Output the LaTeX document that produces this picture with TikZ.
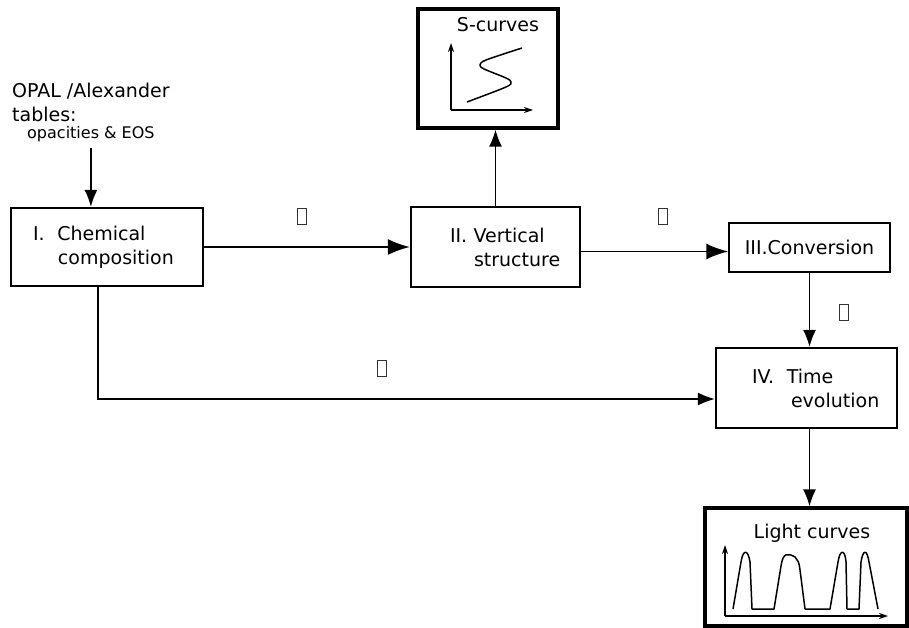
\documentclass[tikz,border=0pt]{standalone}
\usepackage{fontspec}
\setmainfont{DejaVu Sans}
\usetikzlibrary{arrows.meta,positioning}

\newcommand{\bigtext}{\fontsize{19}{24}\selectfont}
\newcommand{\smalltext}{\fontsize{16}{19}\selectfont}
\tikzset{
  stage/.style={draw, line width=2.2pt, inner xsep=0pt, inner ysep=0pt, align=left, font=\bigtext},
  panel/.style={draw, line width=3.2pt, inner sep=0pt},
  flow/.style={line width=1.6pt, -{Latex[length=17pt,width=13pt]}},
  bigflow/.style={line width=1.8pt, -{Latex[length=22pt,width=16pt]}},
  glyph/.style={draw=black!80, line width=1.1pt, minimum width=9pt, minimum height=16pt, inner sep=0pt},
  axis/.style={line width=1.2pt, -{Stealth[length=9pt,width=6pt]}},
}

\begin{document}
\begin{tikzpicture}[x=1pt,y=-1pt]
    \useasboundingbox (0,0) rectangle (909,628);

    % input tables
    \node[anchor=north west, align=left, font=\bigtext, inner sep=0pt] (opal) at (12,83) {OPAL /Alexander\\tables:};
    \node[anchor=base west, font=\smalltext, inner sep=0pt] (opalsub) at (27,139) {opacities \& EOS};

    % the four stages
    \node[stage, text width=192pt, minimum height=78pt] (chem) at (107,247)
        {\hspace*{22pt}I.\ \ Chemical\\\hspace*{47pt}composition};
    \node[stage, text width=169pt, minimum height=80pt] (struct) at (495.5,247)
        {\hspace*{39pt}II. Vertical\\\hspace*{63pt}structure};
    \node[stage, line width=1.5pt, align=center, text width=161pt, minimum height=49pt] (conv) at (809.5,247.5)
        {III.Conversion};
    \node[stage, text width=181pt, minimum height=80pt] (evo) at (806.5,388)
        {\hspace*{36pt}IV.\ \ Time\\\hspace*{75pt}evolution};

    % output panels
    \node[panel, minimum width=140pt, minimum height=119pt] (scurves) at (488,68.5) {};
    \node[anchor=base, font=\bigtext] (stitle) at (498,32) {S-curves};
    \node[panel, minimum width=202pt, minimum height=118pt] (light) at (806,567) {};
    \node[anchor=base, font=\bigtext] (ltitle) at (812,538) {Light curves};

    % S-curve sketch
    \draw[axis] (451,110) -- (451,43);
    \draw[axis] (451,110) -- (533,110);
    \draw[line width=1.5pt] plot[smooth, tension=0.5] coordinates
        {(467,102) (506,87) (511,82) (506,78) (484,69) (480,65) (486,60) (522,48)};

    % light curve sketch
    \draw[axis] (725,616) -- (725,545);
    \draw[axis] (725,616) -- (888,616);
    \draw[line width=1.5pt, line join=round]
        (733,609) -- (741,562) .. controls (743,549) and (748,549) .. (750,562) -- (752,609)
        -- (774,609) -- (781,566) .. controls (783,552) and (788,553) .. (795,557)
        .. controls (798,560) and (799,562) .. (800,570) -- (805,609)
        -- (830,609) -- (838,562) .. controls (840,549) and (845,549) .. (846,562) -- (847,609)
        -- (859,609) -- (861,562) .. controls (863,549) and (867,549) .. (869,562) -- (878,609);

    % connectors
    \draw[flow, shorten <=5pt] (opalsub.south) -- (opalsub.south |- chem.north);
    \draw[bigflow] (chem.east) -- (struct.west)
        node[glyph, pos=0.476, above=22pt] (tofuA) {};
    \draw[flow] (struct.north) -- (struct.north |- scurves.south);
    \draw[bigflow] ([yshift=-4.5pt]struct.east) -- ([yshift=-4.5pt]struct.east -| conv.west)
        node[glyph, pos=0.557, above=26pt] (tofuB) {};
    \draw[flow] (conv.south) -- (conv.south |- evo.north)
        node[glyph, pos=0.54, right=29pt] (tofuC) {};
    \draw[flow] ([xshift=-9pt]chem.south) |- ([yshift=-11pt]evo.west)
        node[glyph, pos=0.73, above=22pt] (tofuD) {};
    \draw[flow] (conv.south |- evo.south) -- (conv.south |- light.north);
\end{tikzpicture}
\end{document}
